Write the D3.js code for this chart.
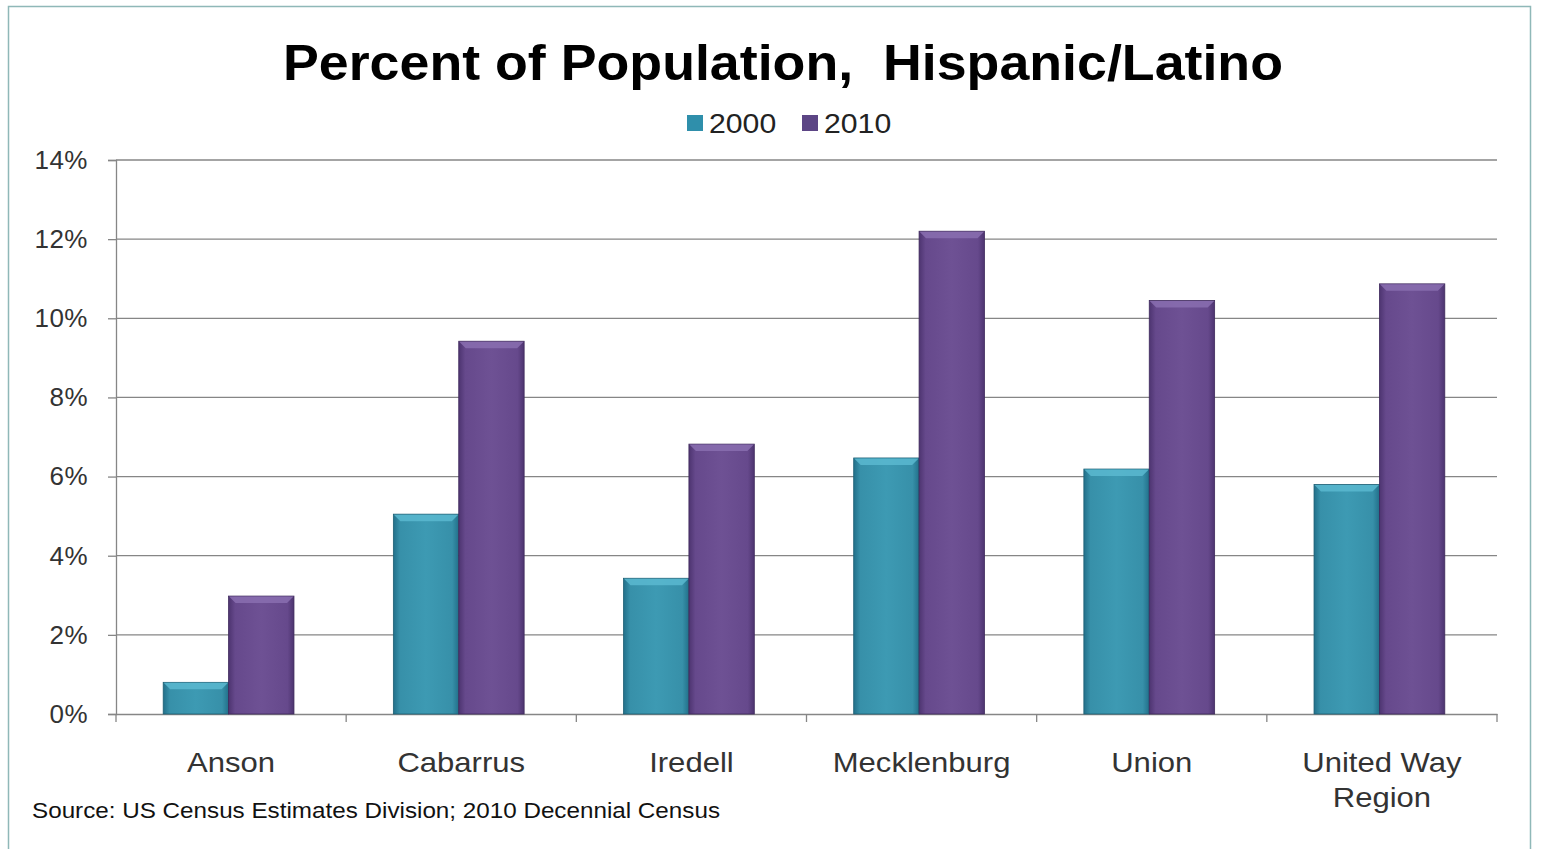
<!DOCTYPE html>
<html><head><meta charset="utf-8">
<script src="https://cdn.jsdelivr.net/npm/d3@7"></script>
<style>body{margin:0;background:#fff;}svg{display:block;}</style>
</head><body>
<svg id="c" width="1544" height="849"></svg>
<script>
const categories = ["Anson","Cabarrus","Iredell","Mecklenburg","Union","United Way Region"];
const series = ["2000","2010"];
const values2000 = [0.8, 5.05, 3.43, 6.47, 6.19, 5.8];
const values2010 = [2.98, 9.42, 6.82, 12.2, 10.45, 10.87];
const yTicks = [0,2,4,6,8,10,12,14];
const title = "Percent of Population,  Hispanic/Latino";
const source = "Source: US Census Estimates Division; 2010 Decennial Census";

const svg = d3.select("#c");
const m = {left:116, right:1497, top:160, bottom:714};
const FONT = "Liberation Sans, Arial, sans-serif";

// frame
svg.append("rect").attr("x",8.5).attr("y",6.5).attr("width",1522).attr("height",850)
  .attr("fill","none").attr("stroke","#8fb8b8").attr("stroke-width",1.5);

const defs = svg.append("defs");
function grad(id, dark, mid, light){
  const g = defs.append("linearGradient").attr("id",id).attr("x1","0").attr("x2","1").attr("y1","0").attr("y2","0");
  g.append("stop").attr("offset","0").attr("stop-color",dark);
  g.append("stop").attr("offset","0.1").attr("stop-color",mid);
  g.append("stop").attr("offset","0.5").attr("stop-color",light);
  g.append("stop").attr("offset","0.9").attr("stop-color",mid);
  g.append("stop").attr("offset","1").attr("stop-color",dark);
}
grad("g2000","#22708a","#3790a9","#3d9ab3");
grad("g2010","#4d3470","#66498c","#6e5194");
const colors = {"2000":"url(#g2000)","2010":"url(#g2010)"};
const topColors = {"2000":"#5ab8d0","2010":"#8a6fb0"};
const legendColors = {"2000":"#2f8fab","2010":"#5c4585"};

const x = d3.scaleBand().domain(categories).range([m.left,m.right]).paddingInner(0).paddingOuter(0);
const xs = d3.scaleBand().domain(series).range([-2.5,x.bandwidth()-2.5]).paddingInner(0).paddingOuter(0.76);
const y = d3.scaleLinear().domain([0,14]).range([m.bottom,m.top]);

// gridlines
svg.append("g").selectAll("line").data(yTicks.filter(d=>d>0)).join("line")
  .attr("x1",m.left).attr("x2",m.right).attr("y1",d=>y(d)).attr("y2",d=>y(d))
  .attr("stroke","#868686").attr("stroke-width",1.3);

// y axis
const yAxis = d3.axisLeft(y).tickValues(yTicks).tickFormat(d=>d+"%").tickSize(8).tickPadding(20);
const ya = svg.append("g").attr("transform",`translate(${m.left},0)`).call(yAxis);
ya.select(".domain").attr("stroke","#868686").attr("stroke-width",1.3);
ya.selectAll(".tick line").attr("stroke","#868686").attr("stroke-width",1.3);
ya.selectAll("text").attr("font-family",FONT).attr("font-size",26).attr("fill","#333").attr("letter-spacing",0.5);

// x axis
const xa = svg.append("g").attr("transform",`translate(0,${m.bottom})`).call(d3.axisBottom(x).tickSize(0).tickFormat(""));
xa.select(".domain").attr("stroke","#868686").attr("stroke-width",1.3);
xa.selectAll(".tick").remove();
const bounds = categories.map(c=>x(c)).concat([m.right]);
svg.append("g").selectAll("line").data(bounds).join("line")
  .attr("x1",d=>d).attr("x2",d=>d).attr("y1",m.bottom).attr("y2",m.bottom+8)
  .attr("stroke","#868686").attr("stroke-width",1.3);

// category labels (horizontally stretched like the original)
const lbl = svg.append("g").selectAll("text").data(categories).join("text")
  .attr("transform",d=>`translate(${x(d)+x.bandwidth()/2},772) scale(1.15,1)`)
  .attr("text-anchor","middle").attr("font-family",FONT)
  .attr("font-size",27).attr("fill","#333");
lbl.each(function(d){
  const t = d3.select(this);
  if(d==="United Way Region"){
    t.append("tspan").attr("x",0).attr("dy",0).text("United Way");
    t.append("tspan").attr("x",0).attr("dy",35).text("Region");
  } else t.text(d);
});

// bars
const data = [];
categories.forEach((c,i)=>{
  data.push({c, s:"2000", v:values2000[i]});
  data.push({c, s:"2010", v:values2010[i]});
});
const bars = svg.append("g").selectAll("g").data(data).join("g");
bars.append("rect")
  .attr("x",d=>x(d.c)+xs(d.s)).attr("width",xs.bandwidth())
  .attr("y",d=>y(d.v)).attr("height",d=>y(0)-y(d.v))
  .attr("fill",d=>colors[d.s]).attr("stroke",d=>d.s==="2000"?"#1d5f74":"#3f2a5c").attr("stroke-width",0.8);
bars.append("path")
  .attr("d",d=>{
    const x0=x(d.c)+xs(d.s), x1=x0+xs.bandwidth(), t=y(d.v), b=7;
    return `M${x0+0.5},${t+0.5} L${x1-0.5},${t+0.5} L${x1-b},${t+b} L${x0+b},${t+b} Z`;
  })
  .attr("fill",d=>topColors[d.s]).attr("opacity",0.85);

// title
svg.append("text").attr("x",283).attr("y",80)
  .attr("font-family",FONT).attr("font-weight","bold")
  .attr("font-size",50).attr("fill","#000").attr("xml:space","preserve").style("white-space","pre")
  .attr("textLength",1000).attr("lengthAdjust","spacingAndGlyphs").text(title);

// legend
const lg = svg.append("g");
const legendPos = {"2000":687,"2010":802};
series.forEach(s=>{
  lg.append("rect").attr("x",legendPos[s]).attr("y",115).attr("width",16).attr("height",16)
    .attr("fill",legendColors[s]);
  lg.append("text").attr("transform",`translate(${legendPos[s]+22},133) scale(1.12,1)`)
    .attr("font-family",FONT).attr("font-size",27).attr("fill","#222").text(s);
});

// source
svg.append("text").attr("x",32).attr("y",818)
  .attr("font-family",FONT).attr("font-size",22).attr("fill","#111")
  .attr("textLength",688).attr("lengthAdjust","spacingAndGlyphs").text(source);
</script>
</body></html>
